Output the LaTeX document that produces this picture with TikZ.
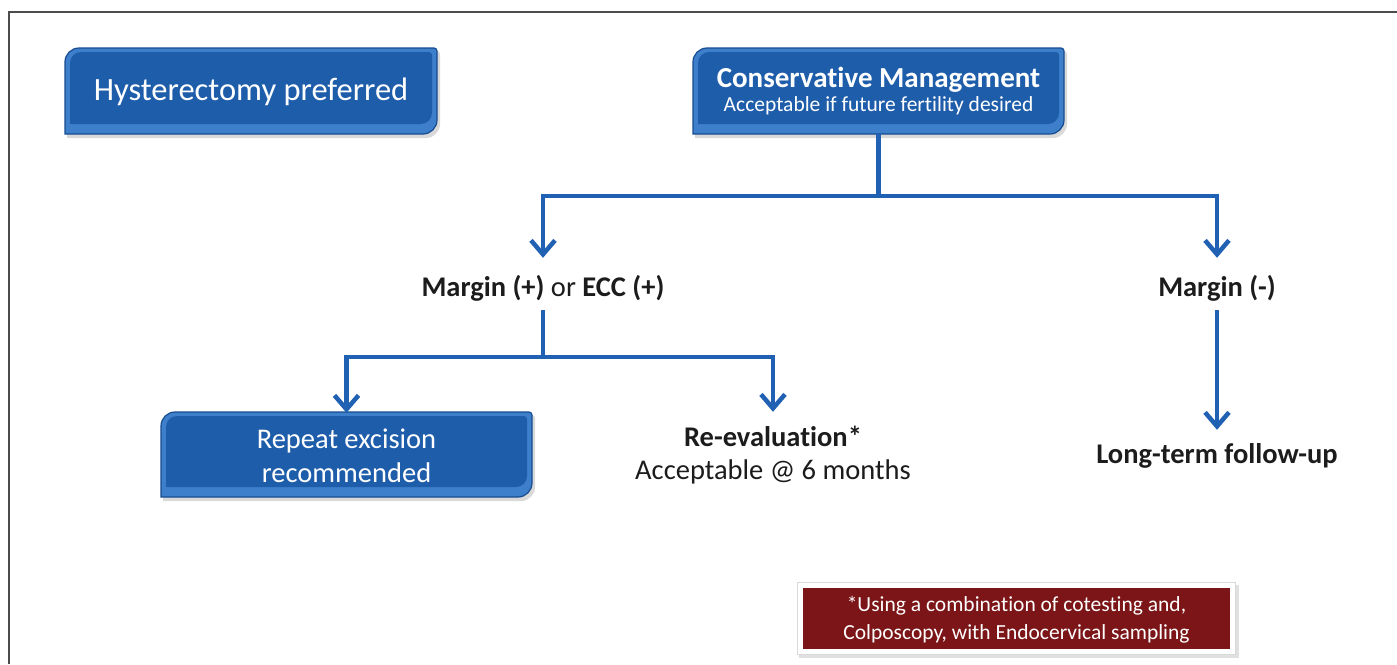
\documentclass[tikz,border=0pt]{standalone}
\usepackage{fontspec}
\setmainfont{Carlito}[Ligatures=NoCommon]
\usetikzlibrary{arrows.meta}

\definecolor{boxblue}{HTML}{1E5DAA}
\definecolor{bevellight}{HTML}{3E7FCC}
\definecolor{beveldark}{HTML}{174C8F}
\definecolor{flowblue}{HTML}{2161B3}
\definecolor{notered}{HTML}{7C1517}
\definecolor{ink}{HTML}{1C1C1C}

% Rectangle with rounded top-left and bottom-right corners: style, L, T, R, B, radius
\newcommand\diagpath[6]{%
  \path[#1] ({#2},{#5}) -- ({#2},{#3+#6})
    .. controls ({#2},{#3+0.45*#6}) and ({#2+0.45*#6},{#3}) .. ({#2+#6},{#3})
    -- ({#4-3},{#3}) .. controls ({#4-1.35},{#3}) and ({#4},{#3+1.35}) .. ({#4},{#3+3})
    -- ({#4},{#5-#6})
    .. controls ({#4},{#5-0.45*#6}) and ({#4-0.45*#6},{#5}) .. ({#4-#6},{#5})
    -- cycle;}

% Bevelled blue panel: L, T, R, B
\newcommand\bevelbox[4]{%
  \diagpath{fill=black,opacity=0.15}{#1+2}{#2+3}{#3+3}{#4+4}{14}
  \diagpath{fill=bevellight}{#1}{#2}{#3}{#4}{14}
  \diagpath{fill=boxblue}{#1+5}{#2+4}{#3-5}{#4-10}{11}
  \diagpath{draw=beveldark,line width=1.2pt}{#1}{#2}{#3}{#4}{14}}

\tikzset{
  flow/.style={draw=flowblue, line width=4.5pt},
  flowarrow/.style={flow, -{Straight Barb[length=14pt,width=24pt]}},
  boxtext/.style={text=white, align=center, inner sep=0pt},
  lbl/.style={text=ink, inner sep=0pt, font=\fontsize{28.5}{34}\selectfont},
}

\begin{document}
\begin{tikzpicture}[x=1pt,y=-1pt]
\useasboundingbox (0,0) rectangle (1397,664);
\fill[white] (0,0) rectangle (1397,664);

% frame
\draw[line width=1.5pt, black!70] (9,664) -- (9,12) -- (1397,12);

% panels
\bevelbox{65}{48}{437}{134}
\bevelbox{693}{48}{1064}{134}
\bevelbox{161}{412}{532}{497}

\node[boxtext, minimum width=372pt, minimum height=86pt,
      font=\fontsize{32.5}{36}\selectfont] (hyst) at (251,92) {Hysterectomy preferred};
\node[boxtext, minimum width=371pt, minimum height=86pt,
      font=\fontsize{21.5}{24}\selectfont] (cons) at (878.5,91)
  {{\fontsize{29}{24}\selectfont\bfseries Conservative Management}\\Acceptable if future fertility desired};
\node[boxtext, minimum width=371pt, minimum height=85pt,
      font=\fontsize{28.5}{34}\selectfont] (rep) at (346.5,455.5) {Repeat excision\\recommended};

% outcome labels
\node[lbl, anchor=base, text height=38pt, text depth=14pt] (mp) at (543,296)
  {\textbf{Margin (+)} or \textbf{ECC (+)}};
\node[lbl, anchor=base, text height=38pt, text depth=14pt] (mm) at (1217,296)
  {\textbf{Margin (-)}};
\node[lbl, anchor=base, text height=34pt, text depth=8pt] (reev) at (773,446)
  {\textbf{Re-evaluation*}};
\node[lbl, anchor=base] (reevnote) at (773,479) {Acceptable @ 6 months};
\node[lbl, anchor=base, text height=33pt] (lt) at (1217,463)
  {\textbf{Long-term follow-up}};

% connectors
\coordinate (j1) at (878.5,196);
\coordinate (j2) at (543,357);
\draw[flow] (cons.south) -- (j1);
\draw[flowarrow] (j1) -| (mp.north);
\draw[flowarrow] (j1) -| (mm.north);
\draw[flow] (mp.south) -- (j2);
\draw[flowarrow] (j2) -| (rep.north);
\draw[flowarrow] (j2) -| (reev.north);
\draw[flowarrow] (mm.south) -- (lt.north);

% footnote
\fill[black, opacity=0.12] (799,585) rectangle (1239,658);
\fill[white] (797,582) rectangle (1235,654);
\draw[black!15, line width=0.8pt] (797,582) rectangle (1235,654);
\node[fill=notered, text=white, inner sep=0pt, minimum width=427pt, minimum height=61pt,
      align=center, font=\fontsize{21.5}{28}\selectfont] (note) at (1016.5,618)
  {\strut*Using a combination of cotesting and,\\Colposcopy, with Endocervical sampling};
\end{tikzpicture}
\end{document}
